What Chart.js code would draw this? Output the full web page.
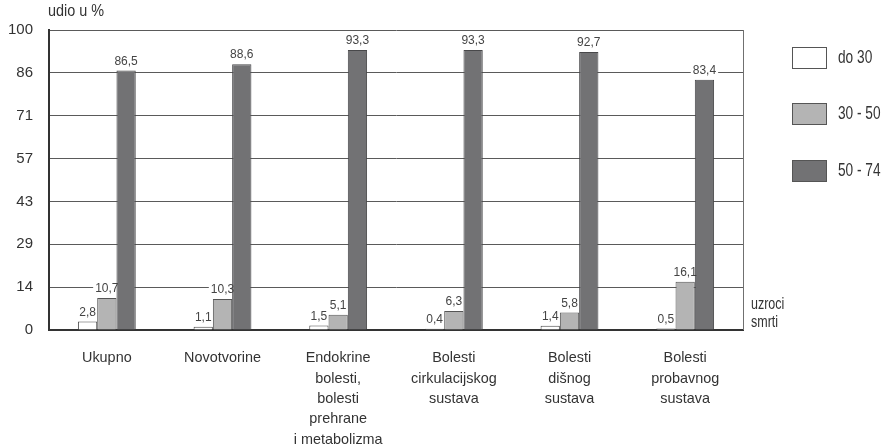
<!DOCTYPE html>
<html>
<head>
<meta charset="utf-8">
<script src="https://cdn.jsdelivr.net/npm/chart.js@4/dist/chart.umd.min.js"></script>
<style>
  html, body { margin: 0; padding: 0; background: #fff; }
  #wrap { width: 885px; height: 445px; position: relative; }
</style>
</head>
<body>
<div id="wrap"><canvas id="c" width="885" height="445"></canvas></div>
<script>
const categories = [
  ['Ukupno'],
  ['Novotvorine'],
  ['Endokrine', 'bolesti,', 'bolesti', 'prehrane', 'i metabolizma'],
  ['Bolesti', 'cirkulacijskog', 'sustava'],
  ['Bolesti', 'dišnog', 'sustava'],
  ['Bolesti', 'probavnog', 'sustava']
];
const seriesNames = ['do 30', '30 - 50', '50 - 74'];
const valuesDo30 = [2.8, 1.1, 1.5, 0.4, 1.4, 0.5];
const values30to50 = [10.7, 10.3, 5.1, 6.3, 5.8, 16.1];
const values50to74 = [86.5, 88.6, 93.3, 93.3, 92.7, 83.4];
const yTickLabels = ['0', '14', '29', '43', '57', '71', '86', '100'];
const yAxisTitle = 'udio u %';
const xAxisTitle = ['uzroci', 'smrti'];

const REG = "'Liberation Sans', Arial, sans-serif";

const fills = ['#ffffff', '#b4b4b4', '#727274'];
const borders = ['#4a4a4a', '#555555', '#48484a'];

const fmt = v => String(v).replace('.', ',');

function condText(ctx, text, x, y, size, sx, align) {
  ctx.save();
  ctx.font = size + 'px ' + REG;
  ctx.textAlign = align;
  ctx.textBaseline = 'middle';
  ctx.translate(x, y);
  ctx.scale(sx, 1);
  ctx.fillText(text, 0, 0);
  ctx.restore();
}

const labelPlugin = {
  id: 'labels',
  beforeDatasetsDraw(chart) {
    const ctx = chart.ctx;
    ctx.save();
    ctx.font = '12px ' + REG;
    chart.data.datasets.forEach((ds, di) => {
      chart.getDatasetMeta(di).data.forEach((el, i) => {
        const t = fmt(ds.data[i]);
        const w = ctx.measureText(t).width;
        ctx.fillStyle = '#fff';
        ctx.fillRect(el.x - w / 2 - 2, el.y - 19, w + 4, 13);
      });
    });
    ctx.restore();
  },
  afterDatasetsDraw(chart) {
    const ctx = chart.ctx;
    ctx.save();
    ctx.font = '12px ' + REG;
    ctx.fillStyle = '#444';
    ctx.textAlign = 'center';
    ctx.textBaseline = 'alphabetic';
    chart.data.datasets.forEach((ds, di) => {
      chart.getDatasetMeta(di).data.forEach((el, i) => {
        ctx.fillText(fmt(ds.data[i]), el.x, el.y - 6);
      });
    });
    ctx.restore();
  },
  afterDraw(chart) {
    const ctx = chart.ctx;
    const a = chart.chartArea;
    const xs = chart.scales.x;
    ctx.save();
    // right frame line
    ctx.strokeStyle = '#707070';
    ctx.lineWidth = 1;
    ctx.beginPath();
    ctx.moveTo(a.right + 0.5, a.top);
    ctx.lineTo(a.right + 0.5, a.bottom);
    ctx.stroke();
    ctx.fillStyle = '#333';
    // category labels, positioned by the category scale
    chart.data.labels.forEach((lines, i) => {
      const x = xs.getPixelForTick(i);
      lines.forEach((ln, k) => condText(ctx, ln, x, a.bottom + 28 + k * 20.4, 15, 0.96, 'center'));
    });
    // axis titles
    condText(ctx, yAxisTitle, a.left - 1, 12, 16, 0.9, 'left');
    condText(ctx, xAxisTitle[0], a.right + 8, 305, 16, 0.78, 'left');
    condText(ctx, xAxisTitle[1], a.right + 8, 323, 16, 0.78, 'left');
    // legend
    const tops = [47, 103, 160];
    chart.data.datasets.forEach((ds, di) => {
      const y = tops[di];
      ctx.fillStyle = ds.backgroundColor;
      ctx.fillRect(792, y, 34, 21);
      ctx.strokeStyle = '#555';
      ctx.lineWidth = 1;
      ctx.strokeRect(792.5, y + 0.5, 34, 21);
      ctx.fillStyle = '#333';
      condText(ctx, ds.label, 838, y + 11, 18, 0.76, 'left');
    });
    ctx.restore();
  }
};

new Chart(document.getElementById('c'), {
  type: 'bar',
  data: {
    labels: categories,
    datasets: [
      { label: seriesNames[0], data: valuesDo30, backgroundColor: fills[0], borderColor: borders[0], borderWidth: 1 },
      { label: seriesNames[1], data: values30to50, backgroundColor: fills[1], borderColor: borders[1], borderWidth: 1 },
      { label: seriesNames[2], data: values50to74, backgroundColor: fills[2], borderColor: borders[2], borderWidth: 1 }
    ]
  },
  options: {
    responsive: false,
    animation: false,
    devicePixelRatio: 1,
    layout: { padding: { left: 0, right: 142, top: 30, bottom: 0 } },
    datasets: { bar: { categoryPercentage: 0.5, barPercentage: 1.0 } },
    plugins: { legend: { display: false }, tooltip: { enabled: false } },
    scales: {
      x: {
        grid: { display: false, drawTicks: false },
        border: { display: true, color: '#333', width: 2 },
        ticks: { display: false },
        afterFit(scale) { scale.height = 115; }
      },
      y: {
        min: 0,
        max: 100,
        grid: { color: '#5a5a5a', lineWidth: 1, drawTicks: false },
        border: { display: true, color: '#333', width: 2 },
        ticks: {
          color: '#333',
          padding: 16,
          font: { family: REG, size: 15 },
          callback: (v, i) => yTickLabels[i]
        },
        afterBuildTicks(scale) {
          scale.ticks = yTickLabels.map((_, i) => ({ value: i * 100 / (yTickLabels.length - 1) }));
        },
        afterFit(scale) { scale.width = 49; }
      }
    }
  },
  plugins: [labelPlugin]
});
</script>
</body>
</html>
